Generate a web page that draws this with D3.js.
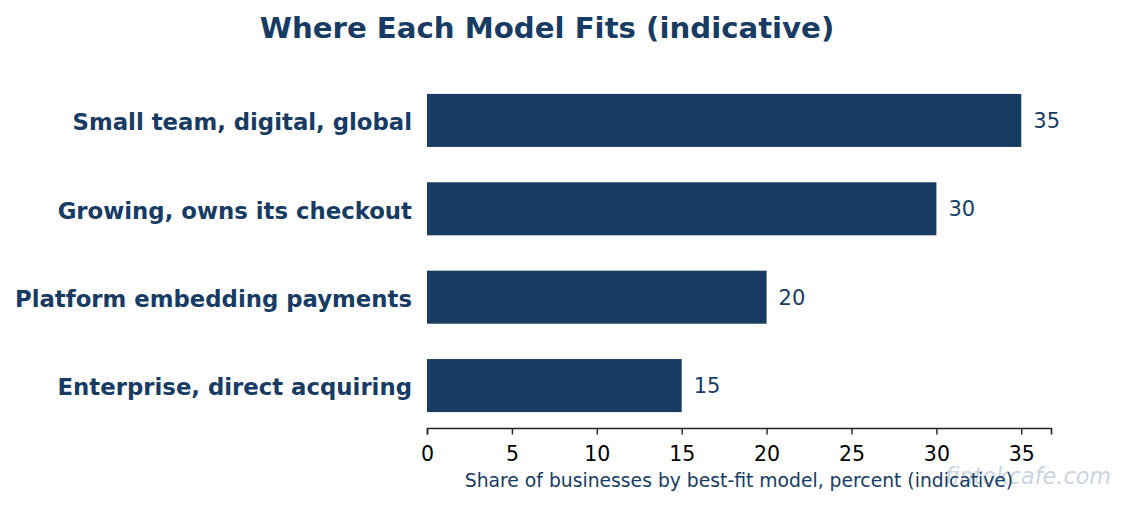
<!DOCTYPE html>
<html><head><meta charset="utf-8">
<script src="https://cdn.jsdelivr.net/npm/d3@7"></script>
<style>body{margin:0;background:#fff}svg{display:block}</style>
</head><body>
<svg id="c" width="1126" height="505"></svg>
<script>
const categories = ["Small team, digital, global","Growing, owns its checkout","Platform embedding payments","Enterprise, direct acquiring"];
const values = [35, 30, 20, 15];
const xTicks = [0,5,10,15,20,25,30,35];
const title = "Where Each Model Fits (indicative)";
const xLabel = "Share of businesses by best-fit model, percent (indicative)";
const watermark = "fintokcafe.com";

const color = "#173b63";
const svg = d3.select("#c");
const x = d3.scaleLinear().domain([0, 36.75]).range([427, 1051]);
const y = d3.scaleLinear().domain([-0.48, 3.48]).range([78, 428]);
const bh = y(0.3) - y(-0.3);

svg.append("text").attr("x", 547).attr("y", 38).attr("text-anchor","middle")
  .attr("font-family","DejaVu Sans").attr("font-weight","bold").attr("font-size",29.2)
  .attr("fill",color).text(title);

svg.selectAll("rect.bar").data(values).join("rect").attr("class","bar")
  .attr("x", x(0)).attr("y",(d,i)=>y(i)-bh/2).attr("width",d=>x(d)-x(0)).attr("height",bh)
  .attr("fill",color);

svg.selectAll("text.val").data(values).join("text").attr("class","val")
  .attr("x",d=>x(d)+12).attr("y",(d,i)=>y(i)).attr("dy","0.36em")
  .attr("font-family","DejaVu Sans").attr("font-size",21).attr("fill",color).text(d=>d);

svg.selectAll("text.cat").data(categories).join("text").attr("class","cat")
  .attr("x",412).attr("y",(d,i)=>y(i)+1.5).attr("dy","0.36em").attr("text-anchor","end")
  .attr("font-family","DejaVu Sans").attr("font-weight","bold").attr("font-size",22.8)
  .attr("fill",color).text(d=>d);

const ax = svg.append("g").attr("transform",`translate(0,${y(3.48)})`)
  .call(d3.axisBottom(x).tickValues(xTicks).tickSize(6.5).tickPadding(11.5).tickFormat(d3.format("d")));
ax.select(".domain").attr("stroke","#222").attr("stroke-width",1.6);
ax.selectAll(".tick line").attr("stroke","#222").attr("stroke-width",1.4);
ax.selectAll(".tick text").attr("font-family","DejaVu Sans")
  .attr("font-size",20.5).attr("fill","#000");

svg.append("text").attr("x",1111).attr("y",484).attr("text-anchor","end")
  .attr("font-family","DejaVu Sans").attr("font-style","italic").attr("font-size",22.3)
  .attr("fill","#cbd4df").text(watermark);

svg.append("text").attr("x",739).attr("y",487).attr("text-anchor","middle")
  .attr("font-family","DejaVu Sans").attr("font-size",18.75)
  .attr("fill",color).text(xLabel);
</script>
</body></html>
